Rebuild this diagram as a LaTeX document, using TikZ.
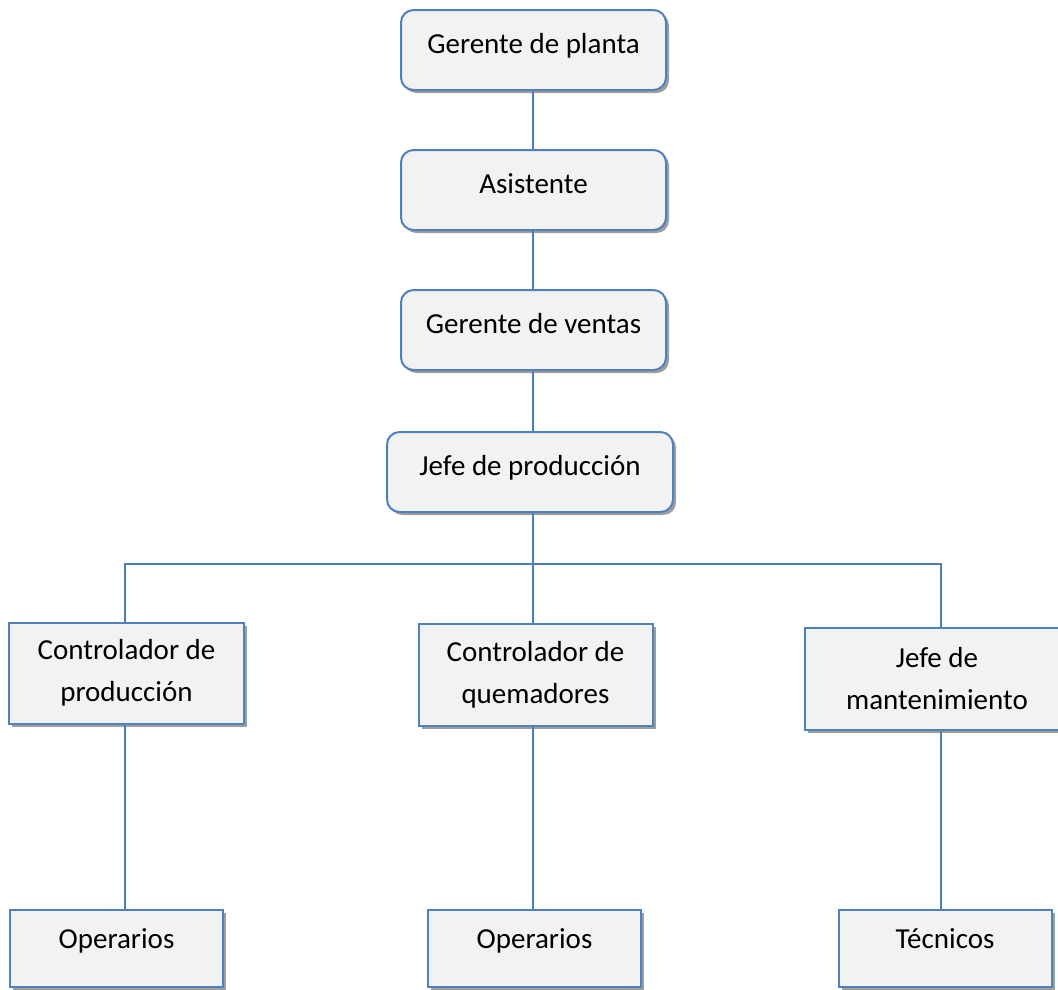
\documentclass[tikz,border=0pt]{standalone}
\usepackage{fontspec}
\setmainfont{Carlito}
\usetikzlibrary{positioning,shadows}
\definecolor{boxblue}{HTML}{4F81BD}
\definecolor{boxgray}{HTML}{F2F2F2}
\definecolor{lineblue}{HTML}{4A7EBB}
\tikzset{
	cargo/.style={draw=boxblue, line width=0.8pt, fill=boxgray, align=center,
		font=\fontsize{11.6}{16.8}\selectfont,
		drop shadow={shadow xshift=1.2pt, shadow yshift=-1.2pt, fill=black!38, opacity=1}},
	jefebox/.style={cargo, rounded corners=5pt, minimum width=106pt, minimum height=32pt,
		text height=8pt, text depth=5.6pt},
	mandobox/.style={cargo, minimum width=93.6pt, minimum height=40.4pt},
	basebox/.style={cargo, minimum width=85.2pt, minimum height=30.8pt,
		text height=6pt, text depth=6pt},
	link/.style={draw=lineblue, line width=0.7pt}
}
\begin{document}
\begin{tikzpicture}[x=0.4pt, y=-0.4pt, node distance=23.2pt]
	\useasboundingbox (0,0) rectangle (1058,989);

	\node[jefebox] (gp) at (533.5,50) {Gerente de planta};
	\node[jefebox, below=of gp] (as) {Asistente};
	\node[jefebox, below=of as] (gv) {Gerente de ventas};
	\node[jefebox, minimum width=114.4pt, below=24pt of gv, xshift=-1.4pt] (jp) {Jefe de producción};

	\node[mandobox] (cp) at (126.5,673) {Controlador de\\producción};
	\node[mandobox, minimum height=40.8pt] (cq) at (535.5,675) {Controlador de\\quemadores};
	\node[mandobox, minimum width=105.6pt, minimum height=40.8pt] (jm) at (937,679) {Jefe de\\mantenimiento};

	\node[basebox] (op1) at (116.5,948.5) {Operarios};
	\node[basebox] (op2) at (534.5,948.5) {Operarios};
	\node[basebox] (tec) at (945,948.5) {Técnicos};

	% bus line under Jefe de produccion
	\coordinate (lx) at (125,564);
	\coordinate (bus) at (533,564);
	\coordinate (rx) at (941,564);

	\path[link] (bus |- gp.south) -- (bus |- as.north);
	\path[link] (bus |- as.south) -- (bus |- gv.north);
	\path[link] (bus |- gv.south) -- (bus |- jp.north);
	\path[link] (bus |- jp.south) -- (bus |- cq.north);
	\path[link] (lx |- cp.north) -- (lx) -- (rx) -- (rx |- jm.north);
	\path[link] (lx |- cp.south) -- (lx |- op1.north);
	\path[link] (bus |- cq.south) -- (bus |- op2.north);
	\path[link] (rx |- jm.south) -- (rx |- tec.north);
\end{tikzpicture}
\end{document}
